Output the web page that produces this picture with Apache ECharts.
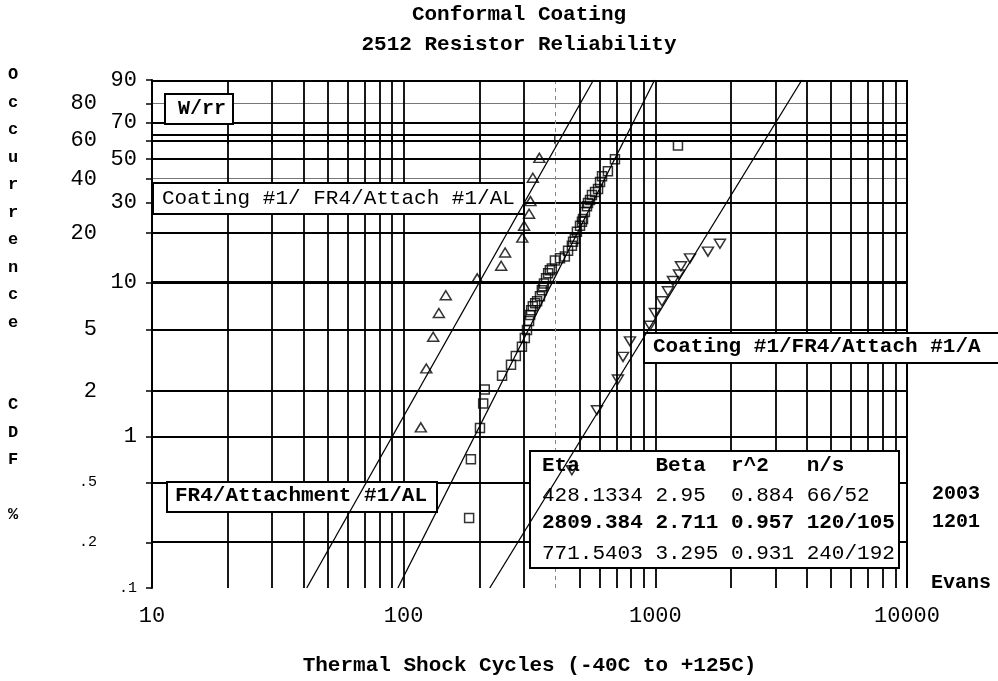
<!DOCTYPE html>
<html>
<head>
<meta charset="utf-8">
<script src="https://cdn.jsdelivr.net/npm/echarts@6/dist/echarts.min.js"></script>
<style>html,body{margin:0;padding:0;background:#fff}#c{width:998px;height:681px}</style>
</head>
<body>
<div id="c"></div>
<script>
// ---------------- data ----------------
const titleLines = ['Conformal Coating', '2512 Resistor Reliability'];
const xAxisTitle = 'Thermal Shock Cycles (-40C to +125C)';
const yAxisTitle = 'Occurrence  CDF %';

// Coating #1/ FR4/Attach #1/AL  (up triangles)
const triUpCycles = [117, 123, 131, 138, 147, 196, 244, 253, 296, 301, 315, 319, 326, 346];
const triUpPct    = [1.15, 2.8, 4.5, 6.4, 8.3, 10.6, 12.7, 15.3, 18.8, 22.1, 25.9, 30.5, 40.5, 50.5];

// FR4/Attachment #1/AL  (squares)
const squareCycles = [182, 185, 201, 207, 210, 246, 267, 279, 295, 303, 309, 315, 318, 321, 326, 333,
  339, 348, 354, 358, 361, 368, 375, 381, 388, 399, 418, 437, 450, 466, 471, 479, 488, 502, 511, 516,
  525, 535, 540, 550, 560, 576, 592, 603, 614, 648, 691, 1230];
const squarePct = [0.29, 0.71, 1.14, 1.65, 2.04, 2.51, 2.96, 3.38, 3.87, 4.42, 4.97, 5.68, 6.20, 6.67, 7.07, 7.39,
  7.60, 8.18, 8.92, 9.45, 9.86, 10.6, 11.4, 11.9, 12.2, 13.7, 14.1, 14.5, 15.7, 16.8, 17.8, 18.5, 20.4, 22.1, 23.3, 24.2,
  26.5, 28.6, 29.8, 30.9, 32.9, 34.1, 35.4, 38.5, 41.2, 43.6, 49.7, 57.2];

// Coating #1/FR4/Attach #1/A  (down triangles)
const triDownCycles = [466, 586, 710, 744, 793, 952, 996, 1062, 1122, 1175, 1241, 1264, 1373, 1618, 1806];
const triDownPct    = [0.60, 1.49, 2.37, 3.33, 4.2, 5.3, 6.4, 7.6, 8.8, 10.2, 11.2, 12.6, 14.1, 15.5, 17.3];

// Weibull fit table (rows in table order)
const fitEta  = ['428.1334', '2809.384', '771.5403'];
const fitBeta = ['2.95', '2.711', '3.295'];
const fitR2   = ['0.884', '0.957', '0.931'];
const fitNS   = ['66/52', '120/105', '240/192'];
const tableHeader = ['Eta', 'Beta', 'r^2', 'n/s'];
const sideNotes = ['2003', '1201', 'Evans'];

// axes
const xTickValues = [10, 20, 30, 40, 50, 60, 70, 80, 90, 100, 200, 300, 400, 500, 600, 700, 800, 900,
  1000, 2000, 3000, 4000, 5000, 6000, 7000, 8000, 9000, 10000];
const yTickPct = [0.1, 0.2, 0.5, 1, 2, 5, 10, 20, 30, 40, 50, 60, 70, 80, 90];
const yLabelsInner = [90, 70, 50, 30, 10, 1, 0.1];
const yLabelsOuter = [80, 60, 40, 20, 5, 2, 0.5, 0.2];
const charLifePct = 63.2;

// ---------------- helpers ----------------
const FONT = "'Liberation Mono', 'Courier New', monospace";
function wb(p) { return Math.log(-Math.log(1 - p / 100)); }
const yMin = wb(yTickPct[0]);
const yMax = wb(yTickPct[yTickPct.length - 1]);

function pctLabel(v) {
  let best = yTickPct[0], bd = Infinity;
  yTickPct.forEach(p => { const d = Math.abs(wb(p) - v); if (d < bd) { bd = d; best = p; } });
  if (best < 1) return '{s|' + String(best).replace(/^0/, '') + '}';
  return '{b|' + String(best) + '}';
}
const labelRich = {
  b: { fontSize: 22, fontFamily: FONT, color: '#000' },
  s: { fontSize: 15, fontFamily: FONT, color: '#000' }
};

function yAxisDef(vals, margin, main) {
  return {
    type: 'value', min: yMin, max: yMax, position: 'left', gridIndex: 0,
    axisLine: { show: !!main, lineStyle: { color: '#000', width: 2 } },
    axisTick: main ? { show: true, customValues: yTickPct.map(wb), length: 6, lineStyle: { color: '#000', width: 1.5 } } : { show: false },
    splitLine: { show: false },
    axisLabel: { customValues: vals.map(wb), margin: margin, formatter: pctLabel, rich: labelRich, showMinLabel: true, showMaxLabel: true, hideOverlap: false }
  };
}

// styling for grid lines (kept apart from data)
function hStyle(p) {
  if (p === 10) return { color: '#000', width: 3, type: 'solid' };
  if (p === 80 || p === 40) return { color: '#777', width: 1, type: 'solid' };
  return { color: '#000', width: 1.8, type: 'solid' };
}
function vStyle(v) {
  if (v === 400) return { color: '#888', width: 1, type: [4, 4] };
  return { color: '#000', width: 1.8, type: 'solid' };
}

const gridLines = [];
yTickPct.forEach(p => gridLines.push({ yAxis: wb(p), lineStyle: hStyle(p) }));
xTickValues.forEach(v => gridLines.push({ xAxis: v, lineStyle: vStyle(v) }));
gridLines.push({ yAxis: wb(charLifePct), lineStyle: { color: '#000', width: 1.8, type: [14, 6] } });

function fitLine(i) {
  const eta = parseFloat(fitEta[i]), beta = parseFloat(fitBeta[i]);
  return [[eta * Math.exp(yMin / beta), yMin], [eta * Math.exp(yMax / beta), yMax]];
}
function pts(c, p) { return c.map((x, i) => [x, wb(p[i])]); }

const hollow = { color: 'rgba(0,0,0,0)', borderColor: '#000', borderWidth: 1.5 };

// ---------------- annotation graphics ----------------
function box(x, y, w, h) {
  return { type: 'rect', zlevel: 1, z: 5, silent: true, shape: { x: x, y: y, width: w, height: h },
    style: { fill: '#fff', stroke: '#000', lineWidth: 2 } };
}
function txt(s, x, y, font, align, extra) {
  return { type: 'text', zlevel: 1, z: 6, silent: true, x: x, y: y,
    style: Object.assign({ text: s, font: font, fill: '#000', align: align || 'left', verticalAlign: 'middle',
      textAlign: align || 'left', textVerticalAlign: 'middle' }, extra || {}) };
}
const pad = (s, n) => s + ' '.repeat(Math.max(0, n - s.length));
const headerRow = pad(tableHeader[0], 9) + pad(tableHeader[1], 6) + pad(tableHeader[2], 6) + tableHeader[3];
const rows = fitEta.map((e, i) => pad(e, 8) + ' ' + pad(fitBeta[i], 5) + ' ' + fitR2[i] + ' ' + fitNS[i]);

const graphics = [
  box(165, 94, 68, 30), txt('W/rr', 178, 109, 'bold 20px ' + FONT),
  box(153, 183, 371, 31), txt('Coating #1/ FR4/Attach #1/AL', 162, 198, '21px ' + FONT),
  box(167, 482, 270, 30), txt('FR4/Attachment #1/AL', 175, 496, 'bold 21px ' + FONT),
  box(644, 333, 380, 30), txt('Coating #1/FR4/Attach #1/A', 653, 347, 'bold 21px ' + FONT),
  box(530, 451, 369, 117),
  txt(headerRow, 542, 466, 'bold 21px ' + FONT),
  txt(rows[0], 542, 495, '21px ' + FONT),
  txt(rows[1], 542, 523, 'bold 21px ' + FONT),
  txt(rows[2], 542, 553, '21px ' + FONT),
  txt(sideNotes[0], 932, 494, 'bold 20px ' + FONT),
  txt(sideNotes[1], 932, 522, 'bold 20px ' + FONT),
  txt(sideNotes[2], 931, 583, 'bold 20px ' + FONT),
  txt(yAxisTitle.split('').join('\n'), 13, 61, 'bold 17px ' + FONT, 'center',
      { verticalAlign: 'top', textVerticalAlign: 'top', lineHeight: 27.5 })
];

// ---------------- chart ----------------
const chart = echarts.init(document.getElementById('c'), null, { renderer: 'canvas' });
chart.setOption({
  animation: false,
  backgroundColor: '#fff',
  title: {
    text: titleLines.join('\n'), left: 519, top: 0, textAlign: 'center', padding: 0,
    textStyle: { fontFamily: FONT, fontSize: 21, fontWeight: 'bold', lineHeight: 30, color: '#000' }
  },
  grid: { left: 152, right: 91, top: 80, bottom: 89, containLabel: false },
  xAxis: {
    type: 'log', logBase: 10, min: 10, max: 10000,
    axisLine: { show: true, lineStyle: { color: '#000', width: 2 } },
    axisTick: { show: true, customValues: xTickValues, length: 9, lineStyle: { color: '#000', width: 1.5 } },
    axisLabel: { margin: 17, fontSize: 22, fontFamily: FONT, color: '#000', formatter: v => String(Math.round(v)) },
    splitLine: { show: false },
    name: xAxisTitle, nameLocation: 'middle', nameGap: 67,
    nameTextStyle: { fontFamily: FONT, fontSize: 21, fontWeight: 'bold', color: '#000' }
  },
  yAxis: [
    yAxisDef(yLabelsInner, 15, true),
    yAxisDef(yLabelsOuter, 55, false)
  ],
  graphic: { elements: graphics },
  series: [
    { name: 'grid', type: 'line', zlevel: 0, z: 1, silent: true, data: [[100, wb(10)]], symbol: 'none',
      lineStyle: { width: 0 },
      markLine: { silent: true, symbol: ['none', 'none'], label: { show: false }, animation: false,
        lineStyle: { type: 'solid' }, data: gridLines } },
    { name: 'fitUp', type: 'line', zlevel: 2, z: 10, silent: true, symbol: 'none', data: fitLine(0), lineStyle: { color: '#000', width: 1.3 } },
    { name: 'fitDown', type: 'line', zlevel: 2, z: 10, silent: true, symbol: 'none', data: fitLine(1), lineStyle: { color: '#000', width: 1.3 } },
    { name: 'fitSquare', type: 'line', zlevel: 2, z: 10, silent: true, symbol: 'none', data: fitLine(2), lineStyle: { color: '#000', width: 1.3 } },
    { name: 'Coating #1/ FR4/Attach #1/AL', type: 'scatter', zlevel: 2, z: 11, symbol: 'triangle', symbolSize: [11, 9],
      itemStyle: hollow, data: pts(triUpCycles, triUpPct) },
    { name: 'FR4/Attachment #1/AL', type: 'scatter', zlevel: 2, z: 11, symbol: 'rect', symbolSize: 9,
      itemStyle: hollow, data: pts(squareCycles, squarePct) },
    { name: 'Coating #1/FR4/Attach #1/A', type: 'scatter', zlevel: 2, z: 11, symbol: 'triangle', symbolRotate: 180, symbolSize: [11, 9],
      itemStyle: hollow, data: pts(triDownCycles, triDownPct) },
    { name: 'frame', type: 'line', zlevel: 2, z: 12, silent: true, data: [[100, wb(10)]], symbol: 'none', lineStyle: { width: 0 },
      markLine: { silent: true, symbol: ['none', 'none'], label: { show: false }, animation: false,
        lineStyle: { color: '#000', width: 2, type: 'solid' },
        data: [{ xAxis: 10000 }, { yAxis: yMax }] } }
  ]
});
</script>
</body>
</html>
